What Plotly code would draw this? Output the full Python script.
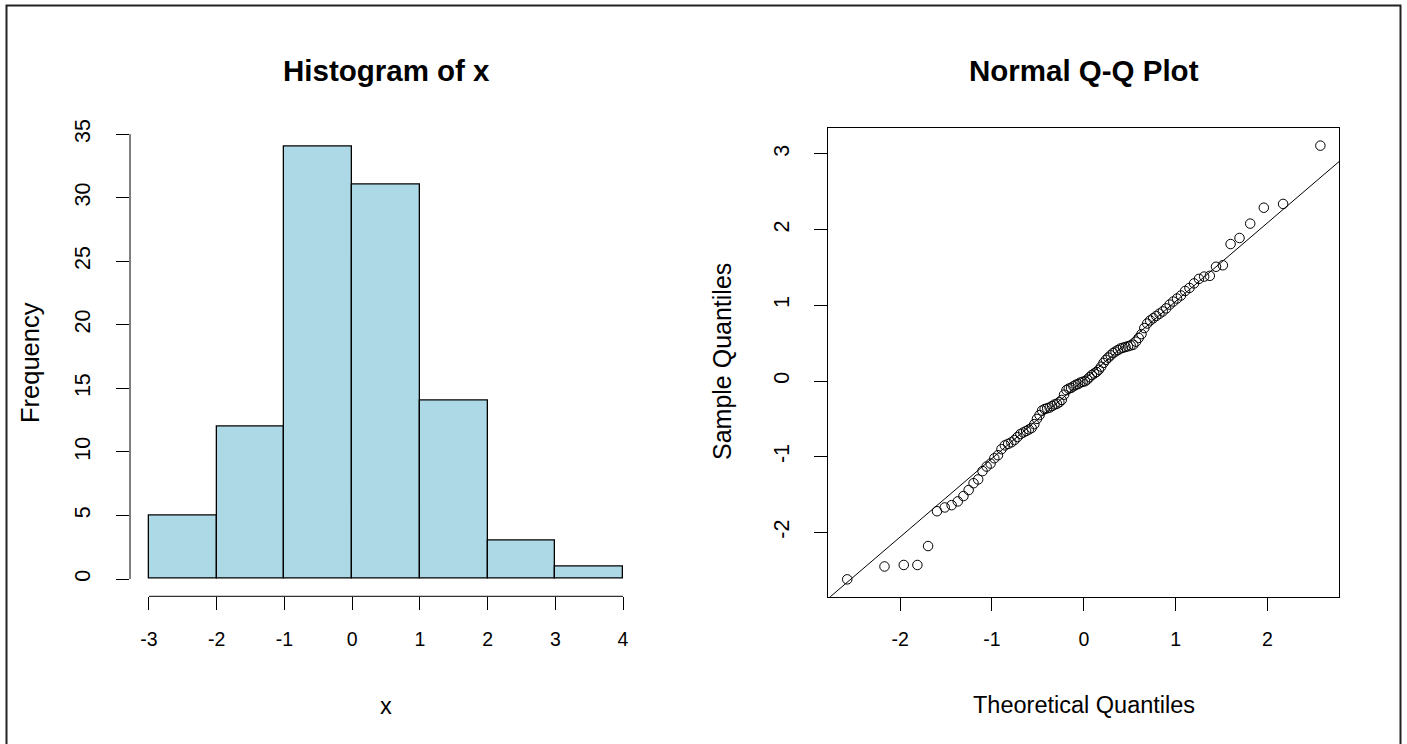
import numpy as np
import plotly.graph_objects as go

W, H = 1407, 744

# ---------------- data ----------------
bin_edges = [-3, -2, -1, 0, 1, 2, 3, 4]
bin_counts = [5, 12, 34, 31, 14, 3, 1]
hist_xticks = [-3, -2, -1, 0, 1, 2, 3, 4]
hist_yticks = [0, 5, 10, 15, 20, 25, 30, 35]

theoretical_q = [
    -2.5758, -2.1701, -1.9600, -1.8119, -1.6954, -1.5982, -1.5141, -1.4395, -1.3722, -1.3106,
    -1.2536, -1.2004, -1.1503, -1.1031, -1.0581, -1.0152, -0.9741, -0.9346, -0.8965, -0.8596,
    -0.8239, -0.7892, -0.7554, -0.7225, -0.6903, -0.6588, -0.6280, -0.5978, -0.5681, -0.5388,
    -0.5101, -0.4817, -0.4538, -0.4261, -0.3989, -0.3719, -0.3451, -0.3186, -0.2924, -0.2663,
    -0.2404, -0.2147, -0.1891, -0.1637, -0.1383, -0.1130, -0.0878, -0.0627, -0.0376, -0.0125,
    0.0125, 0.0376, 0.0627, 0.0878, 0.1130, 0.1383, 0.1637, 0.1891, 0.2147, 0.2404,
    0.2663, 0.2924, 0.3186, 0.3451, 0.3719, 0.3989, 0.4261, 0.4538, 0.4817, 0.5101,
    0.5388, 0.5681, 0.5978, 0.6280, 0.6588, 0.6903, 0.7225, 0.7554, 0.7892, 0.8239,
    0.8596, 0.8965, 0.9346, 0.9741, 1.0152, 1.0581, 1.1031, 1.1503, 1.2004, 1.2536,
    1.3106, 1.3722, 1.4395, 1.5141, 1.5982, 1.6954, 1.8119, 1.9600, 2.1701, 2.5758,
]
sample_q = [
    -2.62, -2.45, -2.43, -2.43, -2.18, -1.72, -1.67, -1.64, -1.59, -1.52,
    -1.44, -1.35, -1.30, -1.19, -1.13, -1.09, -1.02, -0.98, -0.90, -0.85,
    -0.83, -0.81, -0.78, -0.74, -0.70, -0.68, -0.66, -0.64, -0.62, -0.57,
    -0.50, -0.45, -0.39, -0.37, -0.36, -0.35, -0.33, -0.31, -0.30, -0.28,
    -0.25, -0.18, -0.12, -0.10, -0.09, -0.07, -0.05, -0.04, -0.02, -0.01,
    -0.003, 0.02, 0.05, 0.08, 0.10, 0.12, 0.15, 0.19, 0.24, 0.28,
    0.31, 0.34, 0.37, 0.39, 0.41, 0.43, 0.44, 0.45, 0.46, 0.47,
    0.48, 0.52, 0.57, 0.62, 0.70, 0.76, 0.80, 0.83, 0.86, 0.89,
    0.92, 0.96, 1.01, 1.05, 1.09, 1.13, 1.19, 1.23, 1.29, 1.35,
    1.38, 1.39, 1.51, 1.53, 1.81, 1.89, 2.08, 2.29, 2.34, 3.11,
]
qq_xticks = [-2, -1, 0, 1, 2]
qq_yticks = [-2, -1, 0, 1, 2, 3]

# ---------------- helpers ----------------
FONT = "Liberation Sans, Arial, sans-serif"


def fx(p):
    return p / W


def fy(p):
    return 1 - p / H


def r_range(lo, hi):
    d = (hi - lo) * 0.04
    return [lo - d, hi + d]


fig = go.Figure()

# ---------------- histogram ----------------
centers = [(a + b) / 2 for a, b in zip(bin_edges[:-1], bin_edges[1:])]
widths = [b - a for a, b in zip(bin_edges[:-1], bin_edges[1:])]
fig.add_trace(go.Bar(
    x=centers, y=bin_counts, width=widths,
    marker=dict(color="#ADD8E6", line=dict(color="black", width=1.3)),
    xaxis="x", yaxis="y", showlegend=False, hoverinfo="x+y",
))

# ---------------- Q-Q plot ----------------
fig.add_trace(go.Scatter(
    x=theoretical_q, y=sample_q, mode="markers",
    marker=dict(symbol="circle-open", size=9.5, color="black", line=dict(width=1, color="black")),
    xaxis="x2", yaxis="y2", showlegend=False,
))

q1, q3 = np.quantile(sample_q, [0.25, 0.75])
z75 = 0.6745
slope = (q3 - q1) / (2 * z75)
intercept = q1 + slope * z75
qx_range = r_range(min(theoretical_q), max(theoretical_q))
qy_range = r_range(min(sample_q), max(sample_q))
fig.add_trace(go.Scatter(
    x=qx_range, y=[intercept + slope * v for v in qx_range], mode="lines",
    line=dict(color="black", width=1), xaxis="x2", yaxis="y2", showlegend=False,
    hoverinfo="skip",
))

tick_common = dict(ticks="outside", ticklen=13, tickwidth=1, tickcolor="black",
                   showgrid=False, zeroline=False, automargin=False)
xtickfont = dict(family=FONT, size=19.5, color="black")
ytickfont = dict(family=FONT, size=21.5, color="black")

fig.update_layout(
    width=W, height=H, autosize=False,
    margin=dict(l=0, r=0, t=0, b=0, pad=0, autoexpand=False),
    paper_bgcolor="white", plot_bgcolor="white",
    font=dict(family=FONT, color="black"),
    bargap=0,
    xaxis=dict(domain=[fx(130), fx(642)], range=r_range(bin_edges[0], bin_edges[-1]),
               tickvals=hist_xticks, ticktext=[str(v) for v in hist_xticks],
               showline=False, anchor="y", ticklabelstandoff=12, tickfont=xtickfont, **tick_common),
    yaxis=dict(domain=[fy(596.3), fy(129.6)], range=r_range(0, max(bin_counts)),
               tickvals=hist_yticks, ticktext=[str(v) for v in hist_yticks],
               showline=False, anchor="x", tickangle=-90, ticklabelstandoff=17,
               tickfont=ytickfont, **tick_common),
    xaxis2=dict(domain=[fx(828.3), fx(1339.3)], range=qx_range,
                tickvals=qq_xticks, ticktext=[str(v) for v in qq_xticks],
                showline=True, mirror=True, linecolor="black", linewidth=1,
                anchor="y2", ticklabelstandoff=12, tickfont=xtickfont, **tick_common),
    yaxis2=dict(domain=[fy(596.7), fy(128.3)], range=qy_range,
                tickvals=qq_yticks, ticktext=[str(v) for v in qq_yticks],
                showline=True, mirror=True, linecolor="black", linewidth=1,
                anchor="x2", tickangle=-90, ticklabelstandoff=17,
                tickfont=ytickfont, **tick_common),
)

# axis lines for the histogram (R draws them only across the tick span)
fig.add_shape(type="line", xref="x domain", yref="y", x0=0, x1=0,
              y0=hist_yticks[0], y1=hist_yticks[-1], line=dict(color="black", width=1))
fig.add_shape(type="line", xref="x", yref="y domain", x0=hist_xticks[0], x1=hist_xticks[-1],
              y0=0, y1=0, line=dict(color="black", width=1))

# outer frame
fig.add_shape(type="rect", xref="paper", yref="paper", x0=fx(6.5), x1=fx(1400.5),
              y0=-0.01, y1=fy(5.5), line=dict(color="#222222", width=2), fillcolor="rgba(0,0,0,0)")


# titles and axis labels
def ann(text, x, y, size, bold=False, angle=0):
    fig.add_annotation(text=f"<b>{text}</b>" if bold else text, xref="paper", yref="paper",
                       x=fx(x), y=fy(y), xanchor="center", yanchor="middle", showarrow=False,
                       textangle=angle, font=dict(family=FONT, size=size, color="black"))


ann("Histogram of x", 386, 70, 29.5, bold=True)
ann("Normal Q-Q Plot", 1084, 70, 29.5, bold=True)
ann("x", 386, 706, 23.5)
ann("Theoretical Quantiles", 1084, 705, 23.5)
ann("Frequency", 30, 363, 25.5, angle=-90)
ann("Sample Quantiles", 722, 362, 25, angle=-90)

fig.write_html(
    "out.html",
    config={"displayModeBar": False},
    post_script=(
        "document.documentElement.style.margin='0';"
        "document.body.style.margin='0';document.body.style.overflow='hidden';"
        "var gd=document.getElementById('{plot_id}');"
        "gd.style.position='absolute';gd.style.left='0px';gd.style.top='0px';"
    ),
)
